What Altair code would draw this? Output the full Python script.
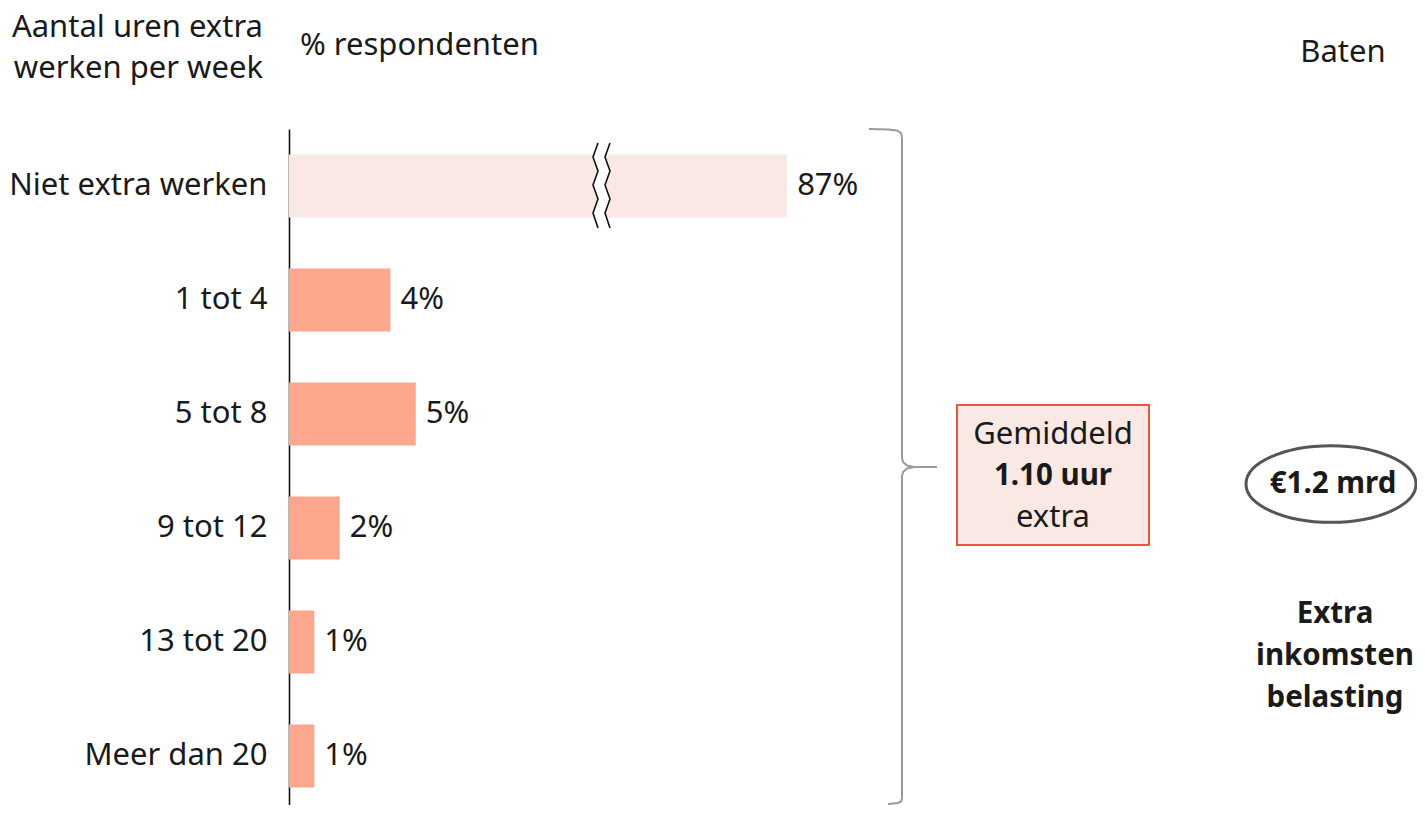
import altair as alt
import pandas as pd

# ---------------- data ----------------
categories = ["Niet extra werken", "1 tot 4", "5 tot 8", "9 tot 12", "13 tot 20", "Meer dan 20"]
percent = [87, 4, 5, 2, 1, 1]
labels = ["87%", "4%", "5%", "2%", "1%", "1%"]
broken = [True, False, False, False, False, False]
TRUNCATED_LENGTH = 19.65  # drawn length (in %) of the broken 87% bar

header_left = ["Aantal uren extra", "werken per week"]
header_mid = "% respondenten"
header_right = "Baten"
box_lines = ["Gemiddeld", "1.10 uur", "extra"]
ellipse_text = "€1.2 mrd"
right_lines = ["Extra", "inkomsten", "belasting"]

# ---------------- style ----------------
FONT = "Noto Sans"
FS = 31
FS_BOLD = 29.5
INK = "#1a1a1a"
BAR = "#FDA68E"
PALE = "#F9E8E4"
BOX_STROKE = "#E9553F"
BRACE = "#9a9a9a"

W, H = 1128, 676          # drawable area inside the svg (page must not overflow)
Y_RANGE = 684             # band range (runs to the bottom edge of the window)
OX, OY = 289, 129         # page position of plot origin
PX_PER_PCT = 25.35


def px(x):
    return x - OX


def py(y):
    return y - OY


df = pd.DataFrame({"cat": categories, "pct": percent, "label": labels, "broken": broken})
df["disp"] = [TRUNCATED_LENGTH if b else p for p, b in zip(percent, broken)]

xscale = alt.Scale(domain=[0, W / PX_PER_PCT], nice=False, zero=True)
yscale = alt.Scale(domain=categories, range=[0, Y_RANGE], paddingInner=0.447, paddingOuter=0.2235)

base = alt.Chart(df)
bars = base.mark_bar().encode(
    x=alt.X("disp:Q", scale=xscale, axis=None),
    y=alt.Y(
        "cat:N",
        sort=categories,
        scale=yscale,
        axis=alt.Axis(
            title=None, ticks=False, labelPadding=22, labelFontSize=FS, labelFont=FONT,
            labelColor=INK, domainColor="#111111", domainWidth=1.6, labelLimit=500,
        ),
    ),
    color=alt.condition(alt.datum.broken, alt.value(PALE), alt.value(BAR)),
)

values = base.mark_text(align="left", baseline="middle", dx=10, fontSize=FS, font=FONT, color=INK).encode(
    x=alt.X("disp:Q", scale=xscale, axis=None),
    y=alt.Y("cat:N", sort=categories, scale=yscale),
    text="label:N",
)

# ---------------- break mark on the 87% bar ----------------
zig_y = [143, 157, 171, 185, 199, 213, 228]
zig_off = [0, -5, 0, -5, 0, -5, 0]
rows = []
for name, cx in [("gap", 604), ("l", 598), ("r", 610)]:
    for i, (yy, oo) in enumerate(zip(zig_y, zig_off)):
        rows.append({"line": name, "i": i, "x": px(cx + oo), "y": py(yy)})
zig = pd.DataFrame(rows)

gap = alt.Chart(zig[zig.line == "gap"]).mark_line(color="white", strokeWidth=11, strokeJoin="round").encode(
    x=alt.X("x:Q", scale=None, axis=None), y=alt.Y("y:Q", scale=None, axis=None), order="i:Q"
)
ziglines = alt.Chart(zig[zig.line != "gap"]).mark_line(color="#111111", strokeWidth=1.6).encode(
    x=alt.X("x:Q", scale=None, axis=None), y=alt.Y("y:Q", scale=None, axis=None),
    detail="line:N", order="i:Q",
)

# ---------------- brace ----------------
brace_pts = [
    (869, 129), (888, 129.5), (897, 130.5), (901, 133), (902, 138),
    (902, 458), (903, 462), (907, 465.5), (914, 467), (937, 467),
    (914, 467), (907, 468.5), (903, 472), (902, 476),
    (902, 798), (901, 801.5), (898, 803), (888, 804),
]
brace_df = pd.DataFrame({"i": range(len(brace_pts)),
                         "x": [px(a) for a, b in brace_pts],
                         "y": [py(b) for a, b in brace_pts]})
brace = alt.Chart(brace_df).mark_line(color=BRACE, strokeWidth=2).encode(
    x=alt.X("x:Q", scale=None, axis=None), y=alt.Y("y:Q", scale=None, axis=None), order="i:Q"
)

one = pd.DataFrame({"k": [0]})

box = alt.Chart(one).mark_rect(fill=PALE, stroke=BOX_STROKE, strokeWidth=2).encode(
    x=alt.value(px(957)), x2=alt.value(px(1149)), y=alt.value(py(405)), y2=alt.value(py(545))
)

ellipse = alt.Chart(one).mark_point(
    shape="M -1 0 A 1 0.45 0 1 1 1 0 A 1 0.45 0 1 1 -1 0 Z",
    size=170 * 170, filled=False, stroke="#555555", strokeWidth=3, opacity=1,
).encode(x=alt.value(px(1331)), y=alt.value(py(484)))


def text(t, x, y, align="center", bold=False):
    return alt.Chart(pd.DataFrame({"t": [t]})).mark_text(
        align=align, baseline="middle", fontSize=FS_BOLD if bold else FS, font=FONT, color=INK,
        fontWeight="bold" if bold else "normal",
    ).encode(x=alt.value(px(x)), y=alt.value(py(y)), text="t:N")


texts = [
    text(header_left[0], 263, 28, align="right"),
    text(header_left[1], 263, 69, align="right"),
    text(header_mid, 300, 46, align="left"),
    text(header_right, 1343, 53),
    text(box_lines[0], 1053, 435),
    text(box_lines[1], 1053, 476, bold=True),
    text(box_lines[2], 1053, 518),
    text(ellipse_text, 1333, 484, bold=True),
    text(right_lines[0], 1335, 614, bold=True),
    text(right_lines[1], 1335, 656, bold=True),
    text(right_lines[2], 1335, 698, bold=True),
]

chart = alt.layer(bars, gap, ziglines, values, brace, box, ellipse, *texts).properties(
    width=W,
    height=H,
    autosize=alt.AutoSizeParams(type="none"),
    padding={"left": OX - 8, "top": OY - 8, "right": 0, "bottom": 0},
).configure_view(stroke=None)

chart.save("out.html", embed_options={"renderer": "svg", "actions": False})
